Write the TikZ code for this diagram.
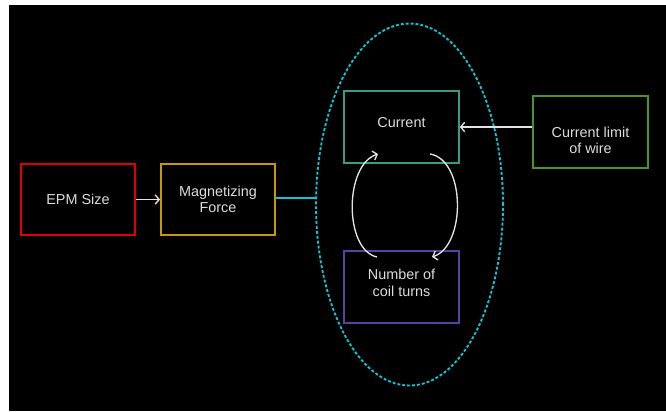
\documentclass[tikz,border=0pt]{standalone}
\usepackage{fontspec}
\setmainfont{Liberation Sans}
\usetikzlibrary{arrows.meta,calc,shapes.geometric}
\definecolor{cred}{HTML}{E00000}
\definecolor{cgold}{HTML}{C89A00}
\definecolor{cteal}{HTML}{3A9A88}
\definecolor{cpurple}{HTML}{5A40A0}
\definecolor{cgreen}{HTML}{4A9428}
\definecolor{ccyan}{HTML}{10C4D4}
\definecolor{ctext}{HTML}{DCDCDC}
\definecolor{carrow}{HTML}{E4E4E4}
\begin{document}
\begin{tikzpicture}[x=0.75pt,y=-0.75pt,
  box/.style={draw, line width=1.4pt, minimum width=85.5pt, minimum height=53.5pt, inner sep=0pt,
    text=ctext, align=center, font=\fontsize{10.8}{12.5}\selectfont},
  lbl/.style={text=ctext, align=center, inner sep=0pt, font=\fontsize{10.8}{12.5}\selectfont},
  flow/.style={draw=carrow, line width=1pt, -{Straight Barb[length=3pt,width=7pt,line width=1pt]}}
]
\useasboundingbox (0,0) rectangle (666,411);
\fill[white] (0,0) rectangle (666,411);
\fill[black] (9,5) rectangle (666,411);

\node[ellipse, draw=ccyan, line width=1.4pt, dash pattern=on 2.2pt off 1.5pt,
      minimum width=140.25pt, minimum height=271.5pt, inner sep=0pt] (grp) at (409.5,204.5) {};

\node[box, draw=cred] (epm) at (78,199.5) {EPM Size};
\node[box, draw=cgold] (mag) at (218,199.5) {Magnetizing\\Force};
\node[box, draw=cteal, minimum width=86pt, minimum height=54pt] (cur) at (401.5,127) {};
\node[lbl] (curt) at (401.5,123) {Current};
\node[box, draw=cpurple, minimum width=86pt, minimum height=54pt] (num) at (401.5,287) {};
\node[lbl] (numt) at (401.5,283) {Number of\\coil turns};
\node[box, draw=cgreen, minimum width=86pt, minimum height=54pt] (lim) at (590.5,132) {};
\node[lbl] (limt) at (590.5,140.5) {Current limit\\of wire};

\draw[flow] (epm.east) -- (mag.west);
\draw[ccyan, line width=1.5pt] ($(mag.east)+(0,-1.5)$) -- ($(mag.east -| grp.west)+(0,-1.5)$);
\draw[flow] ($(lim.west)+(0,-5)$) -- ($(cur.east)+(0,0)$);

\coordinate (a1) at (377,257);
\coordinate (a2) at (378,154);
\coordinate (b1) at (430,154);
\coordinate (b2) at (432,257);
\draw[flow] (a1) .. controls (344,250) and (344,165) .. (a2);
\draw[flow] (b1) .. controls (466,160) and (466,246) .. (b2);
\end{tikzpicture}
\end{document}
